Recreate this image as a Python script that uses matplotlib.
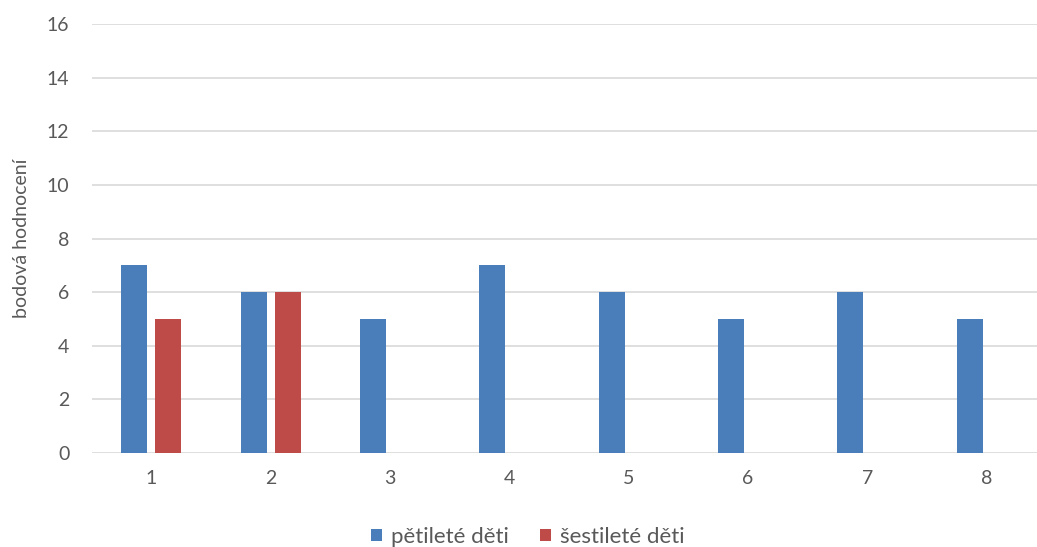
import matplotlib.pyplot as plt
import numpy as np

plt.rcParams['font.family'] = ['Lato', 'DejaVu Sans']

categories = ["1", "2", "3", "4", "5", "6", "7", "8"]
petilete = [7, 6, 5, 7, 6, 5, 6, 5]
sestilete = [5, 6, 0, 0, 0, 0, 0, 0]

blue = "#4a7ebb"
red = "#be4b48"
text_col = "#595959"

fig = plt.figure(figsize=(10.37, 5.47), dpi=100)
# plot area runs slightly past the right edge of the figure
ax = fig.add_axes([91.5 / 1037, 94 / 547, 955 / 1037, 429 / 547])

x = np.arange(1, len(categories) + 1)
w = 0.218
off = 0.142
ax.bar(x - off, petilete, w, color=blue, label="pětileté děti", zorder=3)
ax.bar(x + off, sestilete, w, color=red, label="šestileté děti", zorder=3)

ax.set_xlim(0.5, 8.5)
ax.set_ylim(0, 16)
ax.set_yticks(range(0, 17, 2))
ax.set_xticks(x)
ax.set_xticklabels(categories)
ax.grid(axis="y", color="#d9d9d9", linewidth=1.2, zorder=0)
for s in ax.spines.values():
    s.set_visible(False)
ax.tick_params(length=0, labelsize=14, labelcolor=text_col)
ax.tick_params(axis="x", pad=12)
ax.tick_params(axis="y", pad=16)
ax.set_ylabel("bodová hodnocení", fontsize=14, color=text_col, labelpad=12)

fig.legend(loc="center", bbox_to_anchor=(528 / 1037, 1 - 537 / 547), ncol=2,
           frameon=False, fontsize=16, labelcolor=text_col,
           handlelength=0.5, handleheight=0.5, handletextpad=0.4, columnspacing=1.4)

fig.savefig("out.png", dpi=100)
